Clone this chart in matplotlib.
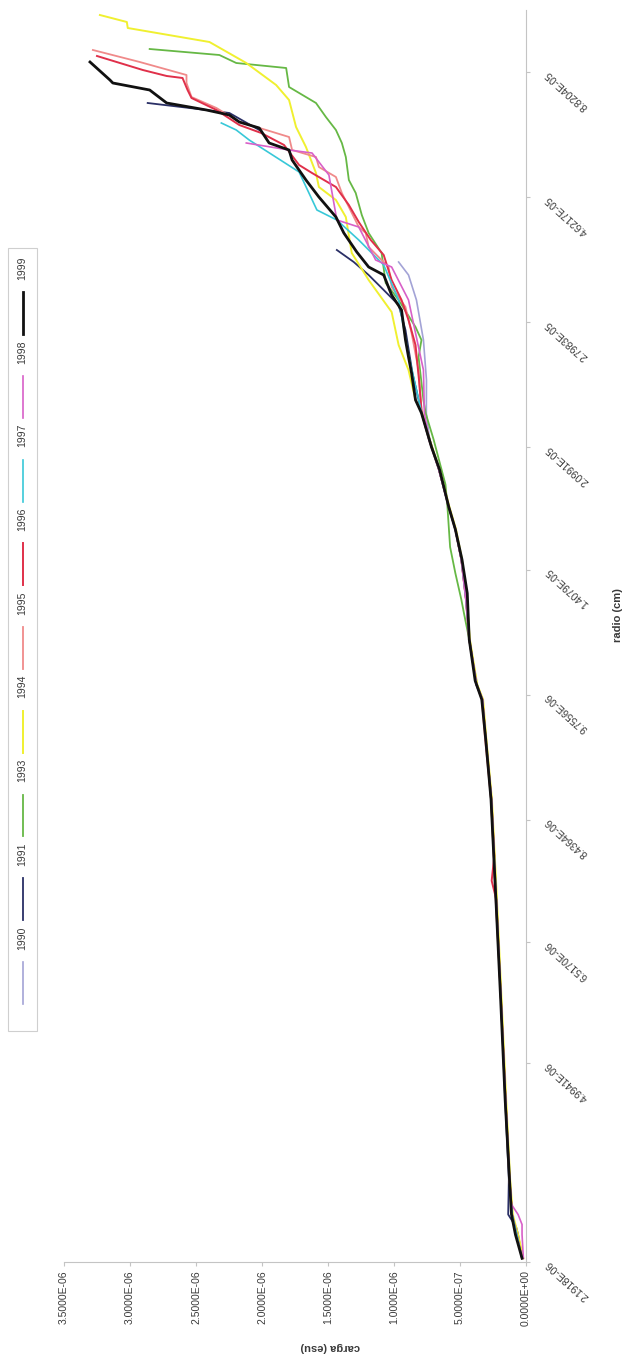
import numpy as np
import matplotlib
matplotlib.use("Agg")
import matplotlib.pyplot as plt
from matplotlib.lines import Line2D
from matplotlib.patches import Rectangle

plt.rcParams['font.family'] = ['Liberation Sans', 'DejaVu Sans']

# ---------------- data (charge in units of 1e-6 esu, position along the radius category axis) -------------
years = ['1990', '1991', '1993', '1994', '1995', '1996', '1997', '1998', '1999']
colors = ['#a3a3d6', '#2a2f66', '#66b845', '#f0f030', '#f08a8a', '#e0304a', '#38c8d8', '#d860c8', '#111111']
widths = [1.2, 1.3, 1.3, 1.4, 1.3, 1.4, 1.2, 1.2, 2.0]

radio_labels = ['2.1918E-06', '4.9941E-06', '6.5170E-06', '8.4364E-06', '9.7556E-06',
                '1.4079E-05', '2.0991E-05', '2.7983E-05', '4.6217E-05', '8.8204E-05']
radio_pos = [0, 15.9, 25.6, 35.4, 45.4, 55.4, 65.2, 75.2, 85.2, 95.2]

carga_ticks = [0, 0.5e-6, 1.0e-6, 1.5e-6, 2.0e-6, 2.5e-6, 3.0e-6, 3.5e-6]

p1990 = [0.3, 2.2, 3.8, 6.6, 13, 21, 29, 37, 41.8, 45, 46.2, 49.8, 53, 56.2, 58.6, 60.4, 63.4, 65.8, 67.9,
         70.56, 73.76, 76.96, 78.96, 80.0]
q1990 = [0.03, 0.07, 0.105, 0.125, 0.155, 0.19, 0.225, 0.262, 0.305, 0.33, 0.375, 0.43, 0.455, 0.49, 0.535,
         0.585, 0.66, 0.73, 0.755, 0.754, 0.777, 0.830, 0.890, 0.965]

p1991 = [0.3, 2.2, 2.8, 3.8, 6.6, 13, 21, 29, 37, 41.8, 45, 46.2, 49.8, 53, 56.2, 58.6, 60.4, 63.4, 65.8, 67.9,
         71.1, 74.56, 76.56, 77.76, 78.96, 80.0, 80.96, np.nan, 90.56, 91.92, 92.16, 92.72]
q1991 = [0.03, 0.06, 0.075, 0.135, 0.13, 0.158, 0.19, 0.228, 0.265, 0.305, 0.33, 0.378, 0.43, 0.45, 0.49, 0.535,
         0.585, 0.66, 0.73, 0.79, 0.86, 0.913, 0.965, 1.078, 1.192, 1.305, 1.433, np.nan, 2.021, 2.247, 2.421, 2.866]

p1993 = [0.3, 2.2, 3.8, 6.6, 13, 21, 29, 37, 41.8, 45, 46.2, 49.8, 51.9, 53, 55.1, 57.2, 60.4, 62.2, 65.8, 67.9,
         68.96, 72.4, 73.76, 74.8, 76.96, 78.32, 80.72, 82.32, 83.76, 85.52, 86.56, 88.4, 89.52, 90.56, 91.6,
         92.72, 94.0, 95.52, 95.92, 96.56, 97.04]
q1993 = [0.03, 0.07, 0.105, 0.125, 0.155, 0.19, 0.225, 0.262, 0.305, 0.33, 0.37, 0.43, 0.47, 0.49, 0.535, 0.575,
         0.595, 0.61, 0.70, 0.76, 0.777, 0.814, 0.792, 0.837, 0.965, 1.063, 1.094, 1.192, 1.244, 1.290, 1.342,
         1.365, 1.395, 1.440, 1.516, 1.591, 1.795, 1.817, 2.195, 2.323, 2.851]

p1994 = [0.3, 2.2, 3.8, 6.6, 13, 21, 29, 37, 41.8, 45, 46.2, 49.8, 53, 56.2, 58.6, 60.4, 63.4, 65.8, 67.9,
         68.96, 71.36, 73.36, 76.0, 78.56, 80.72, 83.6, 84.96, 86.0, 87.12, 89.2, 90.8, 92.96, 94.16, 95.92,
         97.6, 98.72, 99.2, 99.76]
q1994 = [0.02, 0.06, 0.1, 0.12, 0.15, 0.185, 0.22, 0.258, 0.30, 0.325, 0.37, 0.425, 0.45, 0.485, 0.53, 0.58,
         0.655, 0.73, 0.785, 0.837, 0.890, 0.965, 1.018, 1.192, 1.320, 1.365, 1.440, 1.569, 1.591, 1.667, 1.742,
         1.795, 1.893, 2.119, 2.398, 3.017, 3.024, 3.228]

p1995 = [0.3, 2.2, 3.8, 6.6, 13, 21, 29, 37, 41.8, 45, 46.2, 49.8, 53, 56.2, 58.6, 60.4, 63.4, 65.8, 67.9,
         71.36, 74.32, 76.4, 78.0, 79.6, 81.2, 82.32, 82.8, 84.4, 85.52, 86.8, 87.6, 88.4, 88.96, 90.0, 90.56,
         91.2, 92.32, 93.2, 94.32, 94.96, 96.0, 96.96]
q1995 = [0.03, 0.07, 0.105, 0.125, 0.155, 0.19, 0.23, 0.265, 0.31, 0.335, 0.375, 0.43, 0.455, 0.49, 0.535,
         0.585, 0.66, 0.735, 0.79, 0.814, 0.867, 0.913, 1.018, 1.041, 1.192, 1.214, 1.267, 1.342, 1.395, 1.440,
         1.569, 1.591, 1.772, 1.795, 1.968, 2.172, 2.345, 2.534, 2.572, 2.572, 2.926, 3.281]

p1996 = [0.3, 2.2, 3.8, 6.6, 13, 21, 29, 30.5, 32.5, 37, 41.8, 45, 46.2, 49.8, 53, 56.2, 58.6, 60.4, 63.4,
         65.8, 67.9, 70.5, 73.36, 75.36, 76.96, 78.56, 80.56, 81.76, 83.2, 84.56, 86.0, 87.12, 87.76, 89.36,
         90.32, 90.96, 92.16, 93.12, 93.76, 94.72, 94.88, 95.36, 96.48]
q1996 = [0.03, 0.07, 0.105, 0.125, 0.155, 0.19, 0.225, 0.26, 0.24, 0.262, 0.305, 0.33, 0.375, 0.43, 0.455,
         0.49, 0.535, 0.585, 0.66, 0.735, 0.79, 0.81, 0.837, 0.890, 0.943, 1.018, 1.078, 1.176, 1.267, 1.342,
         1.440, 1.621, 1.719, 1.833, 2.006, 2.172, 2.345, 2.534, 2.564, 2.602, 2.722, 2.903, 3.250]

p1997 = [0.3, 2.2, 3.8, 6.6, 13, 21, 29, 37, 41.8, 45, 46.2, 49.8, 53, 56.2, 58.6, 60.4, 63.4, 65.8, 67.9,
         72.56, 76.96, 79.76, 81.76, 83.36, 84.16, 87.2, 89.76, 90.56, 91.12]
q1997 = [0.03, 0.07, 0.105, 0.125, 0.155, 0.19, 0.225, 0.262, 0.305, 0.33, 0.375, 0.43, 0.455, 0.49, 0.535,
         0.585, 0.66, 0.735, 0.79, 0.890, 0.965, 1.078, 1.267, 1.433, 1.584, 1.719, 2.097, 2.195, 2.308]

p1998 = [0.3, 2.2, 3.0, 3.8, 4.6, 6.6, 13, 21, 29, 37, 41.8, 45, 46.2, 49.8, 53, 56.2, 58.6, 60.4, 63.4, 65.8,
         67.9, 71.36, 74.32, 76.96, 79.6, 80.16, 82.8, 83.36, 86.96, 88.72, 88.96, 89.52]
q1998 = [0.02, 0.03, 0.03, 0.06, 0.11, 0.125, 0.155, 0.19, 0.225, 0.262, 0.305, 0.33, 0.375, 0.43, 0.455, 0.49,
         0.535, 0.585, 0.66, 0.735, 0.77, 0.777, 0.837, 0.890, 1.018, 1.139, 1.267, 1.433, 1.493, 1.621, 1.795,
         2.119]

p1999 = [0.3, 2.2, 3.8, 6.6, 13, 21, 29, 37, 41.8, 45, 46.5, 49.8, 53.5, 56.2, 58.6, 60.4, 63.4, 65.2, 67.92,
         68.96, 71.12, 72.4, 73.76, 76.16, 77.36, 78.96, 79.6, 80.8, 82.32, 83.6, 85.2, 86.56, 88.16, 88.96,
         89.52, 90.72, 91.2, 91.76, 92.16, 92.72, 93.76, 94.32, 94.56, 96.0]
q1999 = [0.03, 0.08, 0.11, 0.125, 0.158, 0.192, 0.228, 0.265, 0.305, 0.335, 0.385, 0.43, 0.445, 0.485, 0.535,
         0.585, 0.655, 0.716, 0.792, 0.837, 0.867, 0.890, 0.913, 0.943, 1.018, 1.078, 1.192, 1.282, 1.380,
         1.440, 1.569, 1.667, 1.772, 1.795, 1.946, 2.021, 2.172, 2.247, 2.421, 2.722, 2.851, 3.130, 3.152, 3.303]

series_pos = [p1990, p1991, p1993, p1994, p1995, p1996, p1997, p1998, p1999]
series_q = [q1990, q1991, q1993, q1994, q1995, q1996, q1997, q1998, q1999]

# ---------------- figure -------------
W, H = 625, 1367
fig = plt.figure(figsize=(W / 100, H / 100), dpi=100)
fig.patch.set_facecolor('white')

ax_left, ax_right, ax_top, ax_bottom = 64, 526, 10, 1262
ax = fig.add_axes([ax_left / W, (H - ax_bottom) / H, (ax_right - ax_left) / W, (ax_bottom - ax_top) / H])
ax.set_xlim(3.5e-6, 0)
ax.set_ylim(0, 100.16)

for pos, q, c, lw in zip(series_pos, series_q, colors, widths):
    ax.plot(np.array(q, dtype=float) * 1e-6, pos, color=c, lw=lw, solid_joinstyle='round')

axis_col = '#c4c4c4'
for s in ['top', 'left']:
    ax.spines[s].set_visible(False)
for s in ['bottom', 'right']:
    ax.spines[s].set_color(axis_col)
    ax.spines[s].set_linewidth(0.8)

ax.set_xticks(carga_ticks)
ax.set_xticklabels(['{:.4E}'.format(v) for v in carga_ticks], rotation=90, fontsize=7.5, color='#3a3a3a')
ax.tick_params(axis='x', length=3, color=axis_col, pad=3)

ax.yaxis.tick_right()
ax.set_yticks(radio_pos)
ax.set_yticklabels(radio_labels, fontsize=7.5, color='#3a3a3a')
for lab in ax.get_yticklabels():
    lab.set_rotation(138)
    lab.set_rotation_mode('anchor')
    lab.set_horizontalalignment('right')
    lab.set_verticalalignment('center')
ax.tick_params(axis='y', length=3, color=axis_col, pad=12)

fig.text(330 / W, 1 - 1347 / H, 'carga (esu)', rotation=180, ha='center', va='center',
         fontsize=8, fontweight='bold', color='#3a3a3a')
fig.text(618 / W, 1 - 615 / H, 'radio (cm)', rotation=90, ha='center', va='center',
         fontsize=8, fontweight='bold', color='#3a3a3a')

# ---------------- legend (vertical, rotated) -------------
lg_x0, lg_x1, lg_top, lg_bot = 8, 37, 248, 1031
fig.add_artist(Rectangle((lg_x0 / W, 1 - lg_bot / H), (lg_x1 - lg_x0) / W, (lg_bot - lg_top) / H,
                         transform=fig.transFigure, fill=False, edgecolor='#cfcfcf', lw=0.8))
step = (938 - 268) / 8
cx = 22.5
for i, (yr, c, lw) in enumerate(zip(years, colors, widths)):
    label_y = 938 - i * step
    line_c = label_y + 45
    fig.add_artist(Line2D([cx / W, cx / W], [1 - (line_c - 21) / H, 1 - (line_c + 21) / H],
                          transform=fig.transFigure, color=c, lw=lw))
    fig.text(cx / W, 1 - label_y / H, yr, rotation=90, ha='center', va='center',
             fontsize=7.5, color='#3a3a3a')

fig.savefig('out.png', dpi=100, facecolor='white')
